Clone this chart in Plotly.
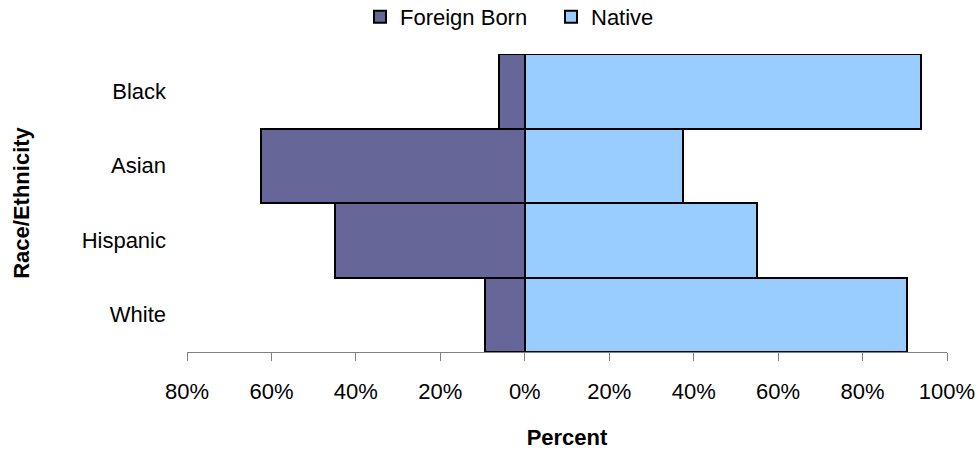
import plotly.graph_objects as go

categories = ["Black", "Asian", "Hispanic", "White"]
foreign_born = [6.1, 62.5, 44.9, 9.5]
native = [93.9, 37.5, 55.1, 90.5]
tick_values = [-80, -60, -40, -20, 0, 20, 40, 60, 80, 100]
tick_labels = ["80%", "60%", "40%", "20%", "0%", "20%", "40%", "60%", "80%", "100%"]

FONT = "Liberation Sans, Arial, sans-serif"
FS = 22

fig = go.Figure()
fig.add_trace(go.Bar(
    y=categories, x=[-v for v in foreign_born], orientation="h", name="Foreign Born",
    marker=dict(color="#666699", line=dict(color="black", width=2)),
))
fig.add_trace(go.Bar(
    y=categories, x=native, orientation="h", name="Native",
    marker=dict(color="#99CCFF", line=dict(color="black", width=2)),
))

fig.update_layout(
    width=979, height=450,
    barmode="relative", bargap=0,
    plot_bgcolor="white", paper_bgcolor="white",
    margin=dict(l=187, r=32, t=54, b=98),
    font=dict(family=FONT, size=FS, color="black"),
    showlegend=True,
    legend=dict(orientation="h", xref="container", x=360 / 979, xanchor="left",
                yref="container", y=1 - 17 / 450, yanchor="middle",
                entrywidth=146, entrywidthmode="pixels",
                font=dict(size=FS), traceorder="normal"),
    xaxis=dict(
        range=[-80, 100], tickvals=tick_values, ticktext=tick_labels,
        showgrid=False, zeroline=False, showline=True, linecolor="#808080", linewidth=1,
        ticks="outside", ticklen=8, tickcolor="#808080", automargin=False,
        tickfont=dict(size=FS), ticklabelstandoff=12,
        title=dict(text="<b>Percent</b>", font=dict(size=FS), standoff=27),
    ),
    yaxis=dict(
        autorange="reversed", showgrid=False, zeroline=False, showline=False,
        ticks="", tickfont=dict(size=FS), ticklabelstandoff=20, automargin=False,
        title=dict(text="<b>Race/Ethnicity</b>", font=dict(size=FS), standoff=45),
    ),
)

fig.write_html("out.html", config={"displayModeBar": False},
               post_script="document.body.style.margin='0px';")
